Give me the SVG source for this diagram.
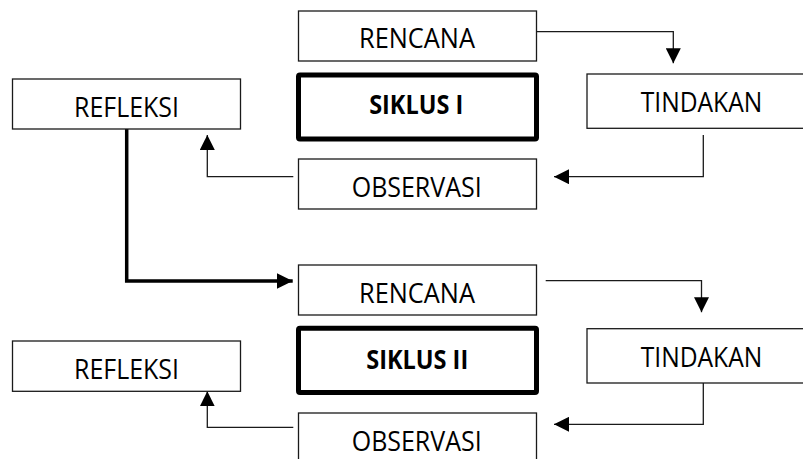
<svg xmlns="http://www.w3.org/2000/svg" width="803" height="459" viewBox="0 0 803 459">
<style>
.box{fill:#fff;stroke:#1a1a1a;stroke-width:1.3}
.thick{fill:#fff;stroke:#000;stroke-width:5}
.t{font-family:"Open Sans",Lato,"Liberation Sans",sans-serif;font-size:26.5px;fill:#000;text-anchor:middle}
.b{font-weight:bold}
.ln{fill:none;stroke:#1a1a1a;stroke-width:1.3}
.lt{fill:none;stroke:#000;stroke-width:3.5}
</style>
<defs>
<marker id="ah" markerUnits="userSpaceOnUse" markerWidth="15" markerHeight="15" refX="15" refY="7.5" orient="auto" viewBox="0 0 15 15">
<path d="M0,0 L15,7.5 L0,15 z" fill="#000"/>
</marker>
<marker id="ahb" markerUnits="userSpaceOnUse" markerWidth="16" markerHeight="16" refX="16" refY="8" orient="auto" viewBox="0 0 16 16">
<path d="M0,0 L16,8 L0,16 z" fill="#000"/>
</marker>
</defs>
<rect width="803" height="459" fill="#fff"/>
<g id="connectors">
<path class="ln" d="M536.7,31.7 H673.3 V63.3" marker-end="url(#ah)"/>
<path class="ln" d="M703.3,135 V176.7 H554" marker-end="url(#ah)"/>
<path class="ln" d="M293.3,176.7 H207.3 V135" marker-end="url(#ah)"/>
<path class="lt" d="M126.7,128.7 V281 H292.7" marker-end="url(#ahb)"/>
<path class="ln" d="M545.7,280.7 H701.5 V312.3" marker-end="url(#ah)"/>
<path class="ln" d="M703.3,383 V424.3 H554" marker-end="url(#ah)"/>
<path class="ln" d="M293.3,427.3 H207.3 V391.3" marker-end="url(#ah)"/>
</g>
<g id="rencana1"><rect class="box" x="298.5" y="11" width="238" height="50"/><text class="t" x="417" y="48.3" textLength="116" lengthAdjust="spacingAndGlyphs">RENCANA</text></g>
<g id="siklus1"><rect class="thick" x="298.5" y="75" width="238" height="64" rx="1.5"/><text class="t b" x="416.2" y="114" textLength="94" lengthAdjust="spacingAndGlyphs">SIKLUS I</text></g>
<g id="tindakan1"><rect class="box" x="587" y="74" width="230" height="54.3"/><text class="t" x="701.5" y="111.7" textLength="121.6" lengthAdjust="spacingAndGlyphs">TINDAKAN</text></g>
<g id="observasi1"><rect class="box" x="298.5" y="159" width="238" height="50"/><text class="t" x="416.7" y="197.3" textLength="130" lengthAdjust="spacingAndGlyphs">OBSERVASI</text></g>
<g id="refleksi1"><rect class="box" x="12.5" y="79" width="228" height="50"/><text class="t" x="126.5" y="117.3" textLength="105" lengthAdjust="spacingAndGlyphs">REFLEKSI</text></g>
<g id="rencana2"><rect class="box" x="298.5" y="265" width="238" height="50"/><text class="t" x="417" y="302.7" textLength="116" lengthAdjust="spacingAndGlyphs">RENCANA</text></g>
<g id="siklus2"><rect class="thick" x="298.5" y="328.3" width="238" height="64.2" rx="1.5"/><text class="t b" x="417.2" y="369.3" textLength="102" lengthAdjust="spacingAndGlyphs">SIKLUS II</text></g>
<g id="tindakan2"><rect class="box" x="587" y="328.7" width="230" height="54.3"/><text class="t" x="701.5" y="366.7" textLength="121.6" lengthAdjust="spacingAndGlyphs">TINDAKAN</text></g>
<g id="observasi2"><rect class="box" x="298.5" y="413" width="238" height="60"/><text class="t" x="416.7" y="450.7" textLength="130" lengthAdjust="spacingAndGlyphs">OBSERVASI</text></g>
<g id="refleksi2"><rect class="box" x="12.5" y="341" width="228" height="50.3"/><text class="t" x="126.5" y="378.7" textLength="105" lengthAdjust="spacingAndGlyphs">REFLEKSI</text></g>
</svg>
